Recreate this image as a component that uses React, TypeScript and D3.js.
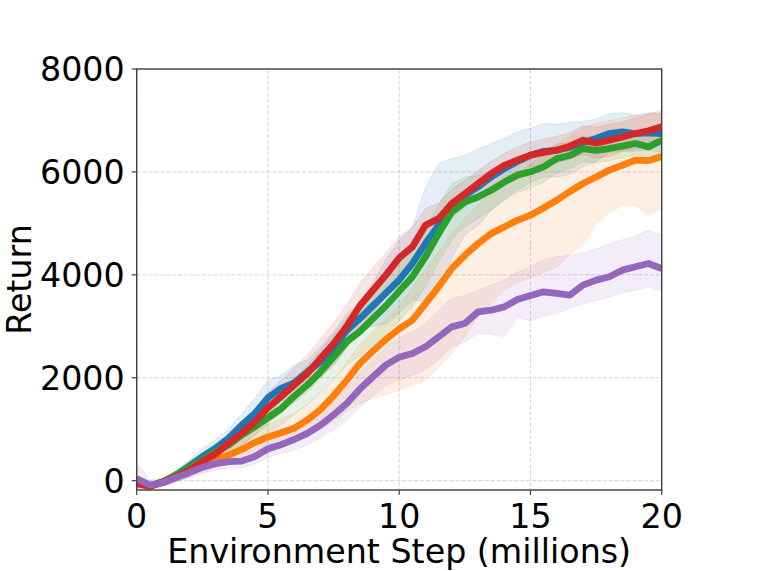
import { useMemo } from 'react'
import * as d3 from 'd3'

const steps = [0, 0.5, 1, 1.5, 2, 2.5, 3, 3.5, 4, 4.5, 5, 5.5, 6, 6.5, 7, 7.5, 8, 8.5, 9, 9.5, 10, 10.5, 11, 11.5, 12, 12.5, 13, 13.5, 14, 14.5, 15, 15.5, 16, 16.5, 17, 17.5, 18, 18.5, 19, 19.5, 20]

// mean returns
const blueMean = [0, -105, -20, 110, 285, 466, 628, 822, 1080, 1307, 1610, 1794, 1900, 2116, 2309, 2566, 2919, 3150, 3400, 3650, 3900, 4218, 4607, 4962, 5286, 5545, 5707, 5900, 6062, 6200, 6325, 6400, 6420, 6480, 6570, 6650, 6746, 6778, 6746, 6760, 6746]
const orangeMean = [0, -100, -20, 65, 175, 285, 400, 498, 608, 740, 850, 930, 1020, 1180, 1380, 1650, 1950, 2280, 2520, 2750, 2950, 3118, 3442, 3766, 4121, 4380, 4607, 4801, 4930, 5060, 5160, 5300, 5450, 5620, 5775, 5900, 6035, 6130, 6230, 6220, 6300]
const greenMean = [0, -105, -20, 110, 260, 400, 563, 692, 886, 1048, 1220, 1400, 1640, 1859, 2116, 2405, 2700, 2900, 3150, 3400, 3680, 3960, 4348, 4801, 5221, 5415, 5512, 5642, 5803, 5937, 6002, 6099, 6260, 6320, 6455, 6420, 6455, 6500, 6552, 6487, 6616]
const redMean = [-60, -110, -30, 78, 207, 370, 518, 725, 919, 1145, 1420, 1633, 1860, 2084, 2373, 2662, 3000, 3400, 3700, 4000, 4330, 4542, 4962, 5092, 5383, 5577, 5771, 5965, 6127, 6228, 6325, 6380, 6422, 6500, 6616, 6560, 6616, 6680, 6746, 6800, 6876]
const purpleMean = [40, -85, -40, 65, 155, 260, 330, 370, 380, 470, 620, 700, 800, 920, 1080, 1280, 1500, 1780, 2020, 2250, 2400, 2471, 2601, 2795, 2989, 3054, 3280, 3313, 3377, 3520, 3600, 3670, 3638, 3606, 3800, 3897, 3962, 4091, 4156, 4221, 4124]

// shaded band bounds
const blueLow = [-60, -150, -80, 20, 170, 310, 460, 640, 860, 1020, 1280, 1550, 1600, 1880, 2020, 2240, 2590, 2900, 3000, 3050, 3250, 3500, 3500, 3760, 4310, 4770, 4960, 5250, 5470, 5650, 5800, 5900, 5900, 5950, 6100, 6200, 6380, 6400, 6400, 6420, 6380]
const blueHigh = [60, -60, 40, 200, 400, 620, 800, 1000, 1300, 1600, 1950, 2050, 2250, 2350, 2600, 2890, 3250, 3450, 3850, 4300, 4670, 4930, 5700, 6160, 6260, 6320, 6450, 6550, 6650, 6780, 6850, 6940, 6920, 6960, 6980, 7030, 7130, 7150, 7100, 7140, 7120]
const orangeLow = [-60, -160, -100, -30, 60, 150, 250, 330, 400, 520, 600, 680, 760, 880, 1000, 1150, 1350, 1500, 1600, 1680, 1760, 1850, 1950, 2200, 2470, 2800, 3180, 3450, 3700, 3850, 3950, 4050, 4150, 4400, 4600, 5000, 5200, 5350, 5350, 5150, 5300]
const orangeHigh = [60, -50, 40, 150, 290, 430, 560, 690, 840, 980, 1100, 1200, 1300, 1480, 1700, 1950, 2300, 2650, 2900, 3150, 3400, 3750, 4100, 4450, 4800, 5100, 5350, 5600, 5800, 5950, 6150, 6350, 6550, 6700, 6850, 6950, 7000, 7050, 7100, 7150, 7150]
const greenLow = [-60, -155, -70, 30, 150, 260, 393, 492, 656, 788, 930, 1080, 1290, 1479, 1706, 1965, 2250, 2420, 2650, 2860, 3100, 3380, 3778, 4241, 4671, 4935, 5092, 5262, 5443, 5600, 5690, 5800, 5980, 6060, 6200, 6180, 6220, 6270, 6330, 6260, 6390]
const greenHigh = [60, -55, 30, 190, 370, 540, 733, 892, 1116, 1308, 1510, 1720, 1990, 2239, 2526, 2845, 3170, 3380, 3650, 3940, 4260, 4540, 4918, 5361, 5771, 5895, 5932, 6022, 6163, 6270, 6320, 6400, 6540, 6580, 6700, 6660, 6690, 6730, 6770, 6710, 6840]
const redLow = [-140, -170, -90, -12, 87, 220, 348, 525, 689, 885, 1120, 1313, 1520, 1724, 1993, 2262, 2580, 2970, 3260, 3570, 3930, 4162, 4632, 4792, 5103, 5317, 5521, 5725, 5897, 6000, 6100, 6140, 6170, 6250, 6340, 6270, 6300, 6400, 6450, 6480, 6550]
const redHigh = [20, -50, 30, 168, 327, 520, 688, 925, 1149, 1405, 1720, 1953, 2200, 2444, 2753, 3062, 3420, 3830, 4140, 4430, 4730, 4922, 5292, 5392, 5663, 5837, 6021, 6205, 6357, 6480, 6580, 6640, 6690, 6760, 6900, 6870, 6930, 6970, 7050, 7120, 7200]
const purpleLow = [-150, -170, -120, -20, 60, 150, 200, 240, 240, 330, 450, 530, 600, 700, 830, 1000, 1180, 1420, 1650, 1850, 1950, 2050, 2150, 2350, 2600, 2700, 2860, 2850, 2800, 3180, 3100, 3200, 3250, 3350, 3440, 3500, 3570, 3650, 3700, 3770, 3700]
const purpleHigh = [350, 20, 40, 160, 260, 380, 460, 520, 530, 620, 800, 900, 1020, 1150, 1330, 1550, 1800, 2100, 2350, 2600, 2780, 2900, 3050, 3300, 3550, 3600, 3700, 3800, 3900, 4050, 4150, 4300, 4350, 4380, 4420, 4500, 4600, 4680, 4750, 4860, 4780]

const xTicks = [0, 5, 10, 15, 20]
const yTicks = [0, 2000, 4000, 6000, 8000]

const series = [
  { name: 'blue', color: '#1f77b4', mean: blueMean, low: blueLow, high: blueHigh },
  { name: 'orange', color: '#ff7f0e', mean: orangeMean, low: orangeLow, high: orangeHigh },
  { name: 'green', color: '#2ca02c', mean: greenMean, low: greenLow, high: greenHigh },
  { name: 'red', color: '#d62728', mean: redMean, low: redLow, high: redHigh },
  { name: 'purple', color: '#9467bd', mean: purpleMean, low: purpleLow, high: purpleHigh },
]

const W = 761
const H = 571
const margin = { top: 69, right: 99.3, bottom: 81, left: 136.7 }
const FONT = '"DejaVu Sans", sans-serif'
const FS = 33.3

export default function App() {
  const innerW = W - margin.left - margin.right
  const innerH = H - margin.top - margin.bottom

  const x = useMemo(() => d3.scaleLinear().domain([0, 20]).range([0, innerW]), [innerW])
  const y = useMemo(() => d3.scaleLinear().domain([-181, 8000]).range([innerH, 0]), [innerH])

  const line = d3.line<number>()
    .x((_, i) => x(steps[i]))
    .y(d => y(d))

  return (
    <svg width={W} height={H} style={{ position: 'absolute', left: 0, top: 0, background: '#fff' }}>
      <defs>
        <clipPath id="plot-clip">
          <rect x={0} y={0} width={innerW} height={innerH} />
        </clipPath>
      </defs>
      <g transform={`translate(${margin.left},${margin.top})`}>
        {/* grid */}
        {xTicks.map(t => (
          <line key={'gx' + t} x1={x(t)} x2={x(t)} y1={0} y2={innerH}
            stroke="#b0b0b0" strokeOpacity={0.6} strokeWidth={0.9} strokeDasharray="4.1,1.8" />
        ))}
        {yTicks.map(t => (
          <line key={'gy' + t} x1={0} x2={innerW} y1={y(t)} y2={y(t)}
            stroke="#b0b0b0" strokeOpacity={0.6} strokeWidth={0.9} strokeDasharray="4.1,1.8" />
        ))}

        <g clipPath="url(#plot-clip)">
          {/* shaded bands */}
          {series.map(s => {
            const area = d3.area<number>()
              .x((_, i) => x(steps[i]))
              .y0((_, i) => y(s.low[i]))
              .y1((_, i) => y(s.high[i]))
            return (
              <path key={'a' + s.name} d={area(s.mean) || ''} fill={s.color} fillOpacity={0.12}
                stroke={s.color} strokeOpacity={0.12} strokeWidth={1} />
            )
          })}
          {/* mean lines */}
          {series.map(s => (
            <path key={'l' + s.name} d={line(s.mean) || ''} fill="none" stroke={s.color}
              strokeWidth={6.8} strokeLinejoin="round" />
          ))}
        </g>

        {/* spines */}
        <rect x={0} y={0} width={innerW} height={innerH} fill="none" stroke="#404040" strokeWidth={1.4} />

        {/* x ticks */}
        {xTicks.map(t => (
          <g key={'xt' + t} transform={`translate(${x(t)},${innerH})`}>
            <line y1={0} y2={5} stroke="#404040" strokeWidth={1.2} />
            <text y={38} textAnchor="middle" fontFamily={FONT} fontSize={FS} fill="#000">{t}</text>
          </g>
        ))}
        {/* y ticks */}
        {yTicks.map(t => (
          <g key={'yt' + t} transform={`translate(0,${y(t)})`}>
            <line x1={0} x2={-5} stroke="#404040" strokeWidth={1.2} />
            <text x={-12} y={12} textAnchor="end" fontFamily={FONT} fontSize={FS} fill="#000">{t}</text>
          </g>
        ))}

        <text x={innerW / 2} y={innerH + 73} textAnchor="middle" fontFamily={FONT} fontSize={FS} fill="#000">
          Environment Step (millions)
        </text>
        <text transform={`translate(${31 - margin.left},${innerH / 2}) rotate(-90)`} textAnchor="middle"
          fontFamily={FONT} fontSize={FS} fill="#000">
          Return
        </text>
      </g>
    </svg>
  )
}
